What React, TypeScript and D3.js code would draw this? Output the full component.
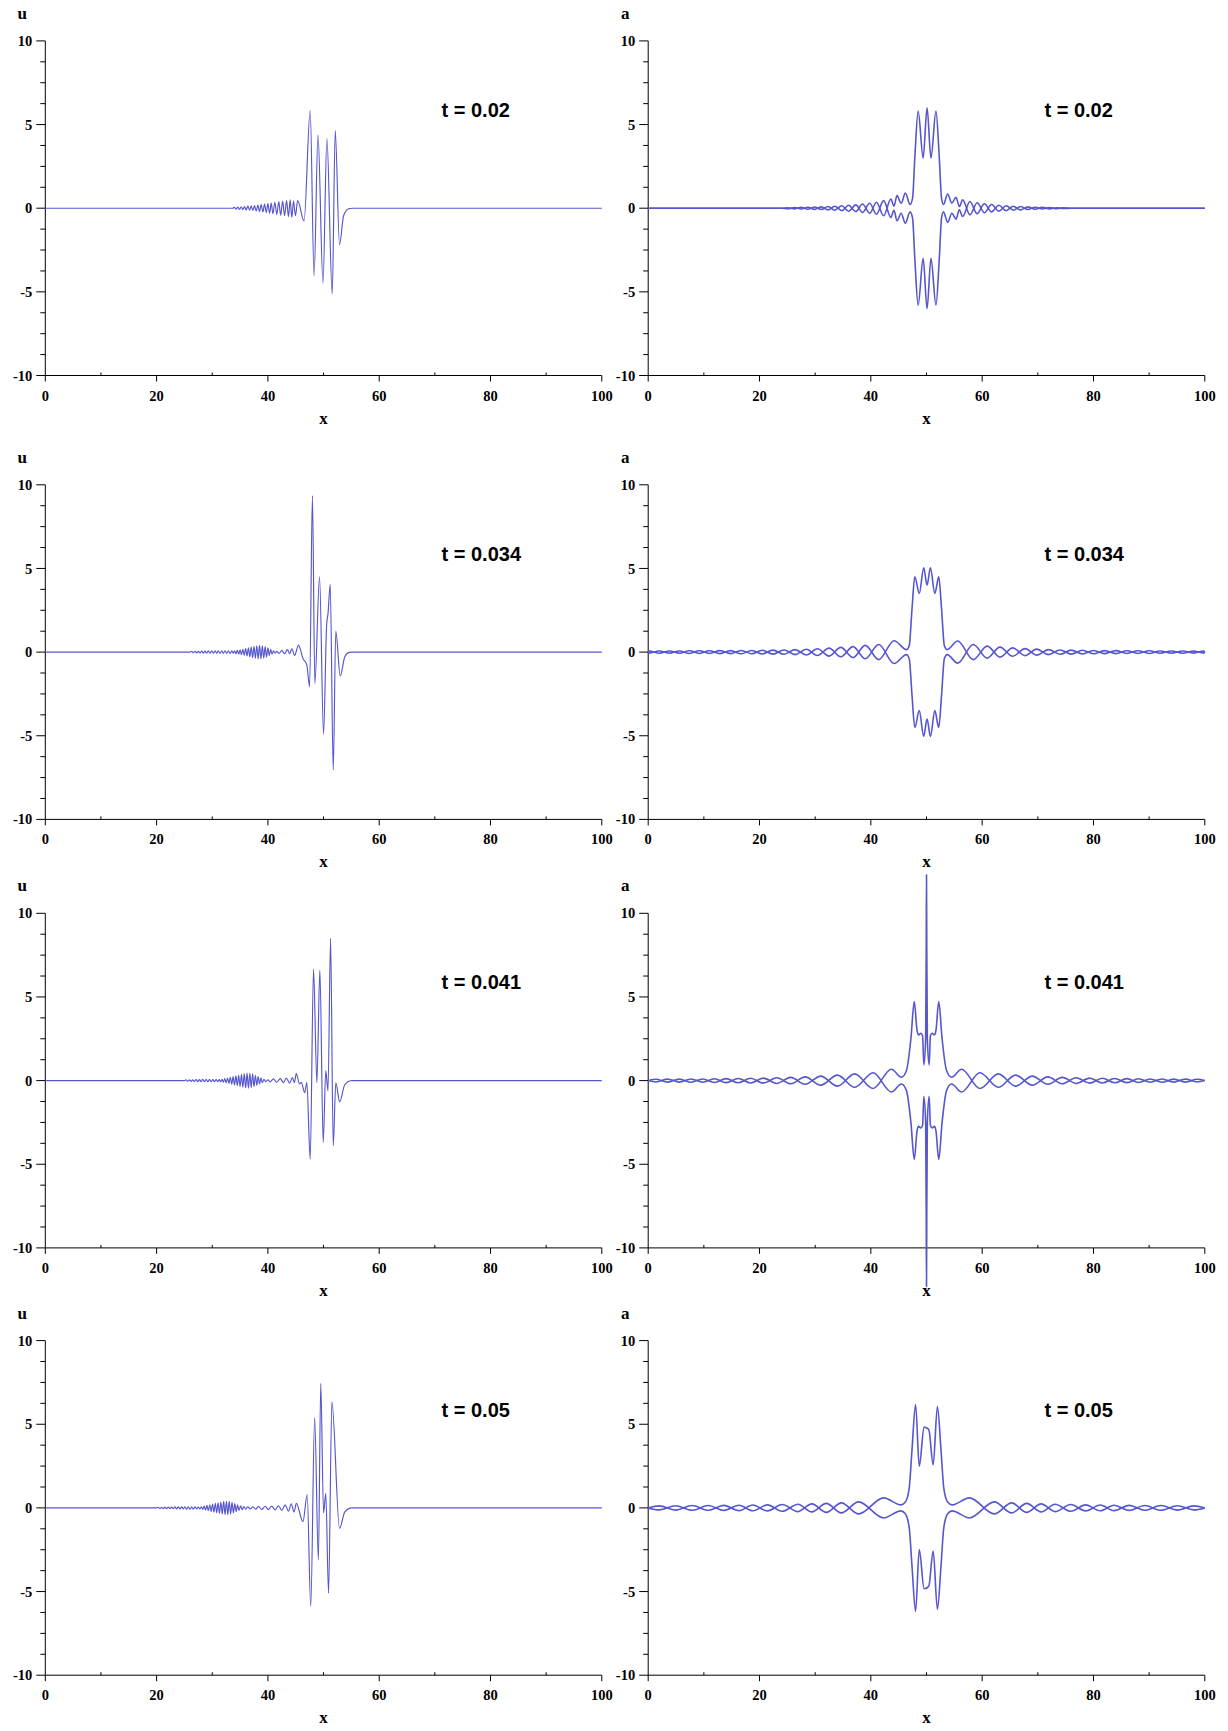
import React from "react";
import * as d3 from "d3";

type P = [number, number];

const X_TICKS = [0, 20, 40, 60, 80, 100];
const X_MINOR = [10, 30, 50, 70, 90];
const Y_TICKS = [-10, -5, 0, 5, 10];
const Y_MINOR = [-8.75, -7.5, -6.25, -3.75, -2.5, -1.25, 1.25, 2.5, 3.75, 6.25, 7.5, 8.75];
const TIMES = ["t = 0.02", "t = 0.034", "t = 0.041", "t = 0.05"];
const LEFT_LABEL = "u";
const RIGHT_LABEL = "a";
const X_LABEL = "x";

// u(x) at t = 0.02
const u1: P[] = [
  [0, 0], [33.7, 0],
  [34.0, 0.05], [34.3, -0.06], [34.6, 0.07], [34.9, -0.07], [35.2, 0.08], [35.5, -0.08], [35.8, 0.1], [36.1, -0.1],
  [36.4, 0.12], [36.7, -0.12], [37.0, 0.14], [37.3, -0.14], [37.6, 0.16], [37.9, -0.17], [38.2, 0.19], [38.5, -0.2],
  [38.8, 0.22], [39.1, -0.23], [39.4, 0.25], [39.7, -0.26], [40.0, 0.28], [40.3, -0.3], [40.6, 0.3], [40.9, -0.33],
  [41.25, 0.35], [41.6, -0.38], [41.95, 0.4], [42.3, -0.42], [42.65, 0.42], [43.0, -0.45], [43.35, 0.45], [43.7, -0.5],
  [44.0, 0.5], [44.3, -0.55], [44.6, 0.42], [44.95, -0.45], [45.35, 0.45], [46.5, -0.76],
  [47.6, 5.84], [48.3, -4.04], [49.0, 4.38], [49.9, -4.48], [50.6, 4.16], [51.56, -5.12], [52.1, 4.64], [52.87, -2.19],
  [53.6, -0.45], [54.5, -0.03], [55.2, 0], [100, 0],
];

// u(x) at t = 0.034
const u2: P[] = [
  [0, 0], [26, 0],
  [26.3, 0.04], [26.6, -0.04], [26.9, 0.05], [27.2, -0.05], [27.5, 0.05], [27.8, -0.05], [28.1, 0.06], [28.4, -0.06],
  [28.7, 0.06], [29.0, -0.06], [29.3, 0.07], [29.6, -0.07], [29.9, 0.07], [30.2, -0.07], [30.5, 0.07], [30.8, -0.07],
  [31.1, 0.08], [31.4, -0.08], [31.7, 0.08], [32.0, -0.08], [32.3, 0.08], [32.6, -0.08], [32.9, 0.08], [33.2, -0.08],
  [33.5, 0.07], [33.75, -0.06],
  [34.0, 0.08], [34.25, -0.1], [34.5, 0.11], [34.75, -0.12], [35.0, 0.13], [35.25, -0.15], [35.5, 0.17], [35.75, -0.19],
  [36.0, 0.21], [36.25, -0.23], [36.5, 0.25], [36.75, -0.28], [37.0, 0.3], [37.25, -0.33], [37.5, 0.35], [37.75, -0.37],
  [38.0, 0.38], [38.25, -0.4], [38.5, 0.4], [38.75, -0.4], [39.0, 0.38], [39.25, -0.36], [39.5, 0.33], [39.75, -0.3],
  [40.0, 0.26], [40.25, -0.21], [40.5, 0.16], [40.75, -0.12], [41.0, 0.08], [41.3, -0.06], [41.6, 0.05],
  [42.0, -0.08], [42.5, 0.1], [43.0, -0.1], [43.5, 0.15], [43.9, -0.1], [44.3, 0.2], [44.8, -0.2], [45.5, 0.42],
  [46.3, -0.38], [47.0, -0.78], [47.5, -2.07], [48.0, 9.36], [48.44, -1.87], [49.28, 4.5], [50.0, -4.9],
  [50.55, 1.6], [50.8, 2.3], [51.2, 4.04], [51.74, -7.05], [52.2, 1.25], [53.0, -1.43], [53.8, -0.3], [54.6, -0.02],
  [55.2, 0], [100, 0],
];

// u(x) at t = 0.041
const u3: P[] = [
  [0, 0], [25, 0],
  [25.3, 0.04], [25.6, -0.04], [25.9, 0.05], [26.2, -0.05], [26.5, 0.05], [26.8, -0.05], [27.1, 0.06], [27.4, -0.06],
  [27.7, 0.06], [28.0, -0.06], [28.3, 0.07], [28.6, -0.07], [28.9, 0.07], [29.2, -0.07], [29.5, 0.07], [29.8, -0.07],
  [30.1, 0.06], [30.4, -0.06], [30.7, 0.06], [31.0, -0.06], [31.25, 0.06],
  [31.5, -0.07], [31.75, 0.08], [32.0, -0.1], [32.25, 0.12], [32.5, -0.13], [32.75, 0.15], [33.0, -0.17], [33.25, 0.19],
  [33.5, -0.21], [33.75, 0.24], [34.0, -0.26], [34.25, 0.28], [34.5, -0.3], [34.75, 0.32], [35.0, -0.35], [35.25, 0.37],
  [35.5, -0.4], [35.75, 0.42], [36.0, -0.44], [36.25, 0.45], [36.5, -0.45], [36.75, 0.44], [37.0, -0.42], [37.25, 0.4],
  [37.5, -0.36], [37.75, 0.32], [38.0, -0.28], [38.25, 0.24], [38.5, -0.2], [38.75, 0.16], [39.0, -0.12], [39.3, 0.08],
  [39.6, -0.06], [40.0, 0.05], [40.4, -0.08], [41.0, 0.1], [41.6, -0.1], [42.2, 0.12], [42.8, -0.12], [43.3, 0.15],
  [43.9, -0.15], [44.4, 0.18], [44.75, -0.12], [45.1, 0.42], [45.7, -0.2], [46.0, -0.1], [46.6, -0.72], [47.0, -0.12],
  [47.6, -4.7], [48.2, 6.66], [48.8, -0.13], [49.34, 6.6], [49.94, -3.7], [50.4, 0.6], [50.8, -0.6], [51.26, 8.5],
  [51.74, -3.9], [52.2, -0.13], [52.9, -1.27], [53.8, -0.25], [54.8, -0.01], [55.2, 0], [100, 0],
];

// u(x) at t = 0.05
const u4: P[] = [
  [0, 0], [20, 0],
  [20.3, 0.04], [20.6, -0.04], [20.9, 0.04], [21.2, -0.04], [21.5, 0.05], [21.8, -0.05], [22.1, 0.05], [22.4, -0.05],
  [22.7, 0.05], [23.0, -0.05], [23.3, 0.06], [23.6, -0.06], [23.9, 0.06], [24.2, -0.06], [24.5, 0.06], [24.8, -0.06],
  [25.1, 0.07], [25.4, -0.07], [25.7, 0.07], [26.0, -0.07], [26.3, 0.07], [26.6, -0.07], [26.9, 0.06], [27.2, -0.06],
  [27.5, 0.05],
  [27.8, -0.06], [28.05, 0.07], [28.3, -0.09], [28.55, 0.11], [28.8, -0.13], [29.05, 0.15], [29.3, -0.17], [29.55, 0.19],
  [29.8, -0.21], [30.05, 0.23], [30.3, -0.25], [30.55, 0.27], [30.8, -0.29], [31.05, 0.31], [31.3, -0.33], [31.55, 0.35],
  [31.8, -0.37], [32.05, 0.39], [32.3, -0.4], [32.55, 0.4], [32.8, -0.4], [33.05, 0.39], [33.3, -0.37], [33.55, 0.34],
  [33.8, -0.3], [34.05, 0.26], [34.3, -0.22], [34.55, 0.18], [34.8, -0.15], [35.1, 0.12], [35.4, -0.1], [35.7, 0.08],
  [36.0, -0.08], [36.4, 0.06], [36.8, -0.06], [37.3, 0.07], [37.8, -0.08], [38.3, 0.09], [38.9, -0.1], [39.5, 0.1],
  [40.1, -0.1], [40.7, 0.11], [41.3, -0.12], [41.9, 0.13], [42.5, -0.15], [43.1, 0.18], [43.7, -0.2], [44.2, 0.25],
  [44.7, -0.25], [45.1, 0.27], [46.3, -0.82], [47.06, 0.8], [47.7, -5.9], [48.4, 5.4], [49.07, -3.12], [49.5, 7.44],
  [50.0, -0.3], [50.4, 0.87], [50.9, -5.1], [51.5, 6.34], [52.87, -1.22], [53.8, -0.25], [54.8, -0.01], [55.2, 0],
  [100, 0],
];

// a(x) at t = 0.02 (drawn together with its mirror image)
const a1: P[] = [
  [0, 0], [24, 0], [25.1, -0.03], [26.3, 0.04], [27.5, -0.05], [28.7, 0.06], [29.9, -0.07], [31.1, 0.08], [32.3, -0.1],
  [33.5, 0.12], [34.8, -0.15], [36.0, 0.18], [37.3, -0.2], [38.5, 0.25], [39.8, -0.3], [41.0, 0.36], [42.3, -0.45],
  [43.6, 0.55], [44.15, 0.12], [44.7, 0.75], [45.45, 0.3], [46.2, 0.9], [47.05, 0.22], [47.5, 0.6], [47.9, 3.0],
  [48.5, 5.8], [49.4, 3.0], [50.1, 6.0], [50.8, 3.0], [51.7, 5.8], [52.3, 3.0], [52.7, 0.6], [53.05, 0.22],
  [53.8, 0.85], [54.55, 0.3], [55.3, 0.65], [55.9, 0.1], [56.5, 0.5], [57.8, -0.4], [59.1, 0.33], [60.4, -0.27],
  [61.7, 0.22], [63.0, -0.18], [64.3, 0.15], [65.6, -0.12], [66.9, 0.1], [68.2, -0.08], [69.5, 0.06], [70.8, -0.05],
  [72.1, 0.04], [73.4, -0.03], [74.6, 0.02], [76, 0], [100, 0],
];

// a(x) at t = 0.034
const a2: P[] = [
  [0, 0], [0.2, 0.06], [2.0, -0.07], [3.8, 0.07], [5.6, -0.07], [7.4, 0.08], [9.2, -0.08], [11.0, 0.08], [12.9, -0.09],
  [14.8, 0.09], [16.7, -0.1], [18.6, 0.1], [20.5, -0.11], [22.4, 0.12], [24.4, -0.13], [26.4, 0.15], [28.4, -0.17],
  [30.4, 0.2], [32.5, -0.24], [34.6, 0.28], [36.8, -0.33], [39.0, 0.4], [41.4, -0.45], [44.2, 0.68], [46.4, 0.15],
  [46.9, 0.4], [47.4, 2.6], [47.9, 4.5], [48.7, 3.5], [49.5, 5.04], [50.1, 4.0], [50.7, 5.04], [51.5, 3.5],
  [52.2, 4.5], [52.7, 2.6], [53.2, 0.4], [53.7, 0.15], [55.6, 0.66], [58.4, -0.45], [60.9, 0.36], [63.2, -0.3],
  [65.5, 0.25], [67.7, -0.21], [69.8, 0.18], [71.9, -0.15], [74.0, 0.13], [76.0, -0.12], [78.0, 0.11], [80.0, -0.1],
  [82.0, 0.09], [84.0, -0.09], [86.0, 0.08], [88.0, -0.08], [90.0, 0.08], [92.0, -0.07], [94.0, 0.07], [96.0, -0.07],
  [98.0, 0.06], [99.8, -0.06], [100, 0],
];

// a(x) at t = 0.041
const a3: P[] = [
  [0, 0], [1.4, -0.08], [3.5, 0.09], [5.6, -0.09], [7.7, 0.1], [9.8, -0.1], [11.9, 0.11], [14.0, -0.12], [16.2, 0.13],
  [18.4, -0.14], [20.7, 0.15], [23.1, -0.17], [25.6, 0.19], [28.2, -0.22], [31.0, 0.27], [34.0, -0.33], [37.1, 0.4],
  [40.4, -0.47], [43.7, 0.68], [45.5, 0.2], [46.4, 0.6], [47.2, 2.5], [47.8, 4.72], [48.3, 3.0], [48.56, 2.73],
  [48.98, 2.83], [49.3, 2.67], [49.52, 0.94], [49.85, 2.5], [49.95, 8.0], [50.0, 12.3], [50.05, 8.0], [50.15, 2.5],
  [50.48, 0.94], [50.7, 2.67], [51.02, 2.83], [51.44, 2.73], [51.7, 3.0], [52.2, 4.72], [52.8, 2.5], [53.6, 0.6],
  [54.5, 0.2], [56.3, 0.68], [59.6, -0.47], [62.9, 0.4], [66.0, -0.33], [69.0, 0.27], [71.8, -0.22], [74.4, 0.19],
  [76.9, -0.17], [79.3, 0.15], [81.6, -0.14], [83.8, 0.13], [86.0, -0.12], [88.1, 0.11], [90.2, -0.1], [92.3, 0.1],
  [94.4, -0.09], [96.5, 0.09], [98.6, -0.08], [100, 0],
];

// a(x) at t = 0.05
const a4: P[] = [
  [0, 0], [2.0, 0.12], [4.9, -0.13], [7.9, 0.14], [10.8, -0.14], [13.6, 0.15], [16.3, -0.16], [18.8, 0.17],
  [21.4, -0.18], [24.1, 0.2], [26.9, -0.22], [29.4, 0.24], [32.0, -0.27], [34.7, 0.3], [37.8, -0.36], [42.3, 0.6],
  [45.4, 0.18], [46.2, 0.35], [46.9, 1.2], [47.4, 3.5], [48.04, 6.18], [48.7, 2.49], [49.57, 4.83], [50.4, 4.69],
  [51.2, 2.58], [51.96, 6.06], [52.6, 3.5], [53.1, 1.2], [53.8, 0.35], [54.6, 0.18], [57.7, 0.6], [62.2, -0.36],
  [65.3, 0.3], [68.0, -0.27], [70.6, 0.24], [73.1, -0.22], [75.9, 0.2], [78.6, -0.18], [81.2, 0.17], [83.7, -0.16],
  [86.4, 0.15], [89.2, -0.14], [92.1, 0.14], [95.1, -0.13], [98.0, 0.12], [100, 0],
];

const U_SERIES = [u1, u2, u3, u4];
const A_SERIES = [a1, a2, a3, a4];

const W = 1228;
const H = 1731;
const COLS: [number, number][] = [[45.3, 601.8], [648.2, 1204.8]];
const ROW_TOP = [40.9, 484.8, 913.3, 1340.6];
const PH = 334.6;
const LINE = "#5656cf";
const SERIF = "'Liberation Serif', 'Times New Roman', serif";
const SANS = "'Liberation Sans', Arial, sans-serif";

function Panel(props: { col: number; row: number; data: P[]; mirror: boolean; label: string; time: string }) {
  const { col, row, data, mirror, label, time } = props;
  const [x0, x1] = COLS[col];
  const top = ROW_TOP[row];
  const bottom = top + PH;
  const x = d3.scaleLinear().domain([0, 100]).range([x0, x1]);
  const y = d3.scaleLinear().domain([-10, 10]).range([bottom, top]);
  const yMirror = d3.scaleLinear().domain([-10, 10]).range([top, bottom]);
  const line = d3.line<P>().x((d) => x(d[0])).y((d) => y(d[1])).curve(d3.curveMonotoneX);
  const lineM = d3.line<P>().x((d) => x(d[0])).y((d) => yMirror(d[1])).curve(d3.curveMonotoneX);
  const sw = mirror ? 1.6 : 1.15;
  return (
    <g>
      {/* axes */}
      <line x1={x0} x2={x0} y1={top} y2={bottom} stroke="#000" strokeWidth={1} />
      <line x1={x0} x2={x1} y1={bottom} y2={bottom} stroke="#000" strokeWidth={1} />
      {Y_TICKS.map((t) => (
        <g key={"yt" + t}>
          <line x1={x0 - 9} x2={x0} y1={y(t)} y2={y(t)} stroke="#000" strokeWidth={1} />
          <text x={x0 - 13} y={y(t)} dy="0.35em" textAnchor="end" fontFamily={SERIF} fontWeight="bold" fontSize={14.5}>
            {t}
          </text>
        </g>
      ))}
      {Y_MINOR.map((t) => (
        <line key={"ym" + t} x1={x0 - 5} x2={x0} y1={y(t)} y2={y(t)} stroke="#000" strokeWidth={1} />
      ))}
      {X_TICKS.map((t) => (
        <g key={"xt" + t}>
          <line x1={x(t)} x2={x(t)} y1={bottom} y2={bottom + 6} stroke="#000" strokeWidth={1} />
          <text x={x(t)} y={bottom + 25} textAnchor="middle" fontFamily={SERIF} fontWeight="bold" fontSize={14.5}>
            {t}
          </text>
        </g>
      ))}
      {X_MINOR.map((t) => (
        <line key={"xm" + t} x1={x(t)} x2={x(t)} y1={bottom} y2={bottom - 3} stroke="#000" strokeWidth={1} />
      ))}
      <text x={x0 - 23} y={top - 22} textAnchor="middle" fontFamily={SERIF} fontWeight="bold" fontSize={17}>
        {label}
      </text>
      <text x={(x0 + x1) / 2} y={bottom + 48} textAnchor="middle" fontFamily={SERIF} fontWeight="bold" fontSize={17}>
        {X_LABEL}
      </text>
      <text x={x(71.2)} y={top + 76} fontFamily={SANS} fontWeight="bold" fontSize={20}>
        {time}
      </text>
      {/* data */}
      <path d={line(data) || ""} fill="none" stroke={LINE} strokeWidth={sw} strokeLinejoin="round" />
      {mirror && <path d={lineM(data) || ""} fill="none" stroke={LINE} strokeWidth={sw} strokeLinejoin="round" />}
    </g>
  );
}

export default function App() {
  return (
    <svg
      width={W}
      height={H}
      viewBox={`0 0 ${W} ${H}`}
      style={{ position: "absolute", left: 0, top: 0, background: "#fff" }}
    >
      <rect x={0} y={0} width={W} height={H} fill="#fff" />
      {TIMES.map((tm, i) => (
        <g key={i}>
          <Panel col={0} row={i} data={U_SERIES[i]} mirror={false} label={LEFT_LABEL} time={tm} />
          <Panel col={1} row={i} data={A_SERIES[i]} mirror={true} label={RIGHT_LABEL} time={tm} />
        </g>
      ))}
    </svg>
  );
}
